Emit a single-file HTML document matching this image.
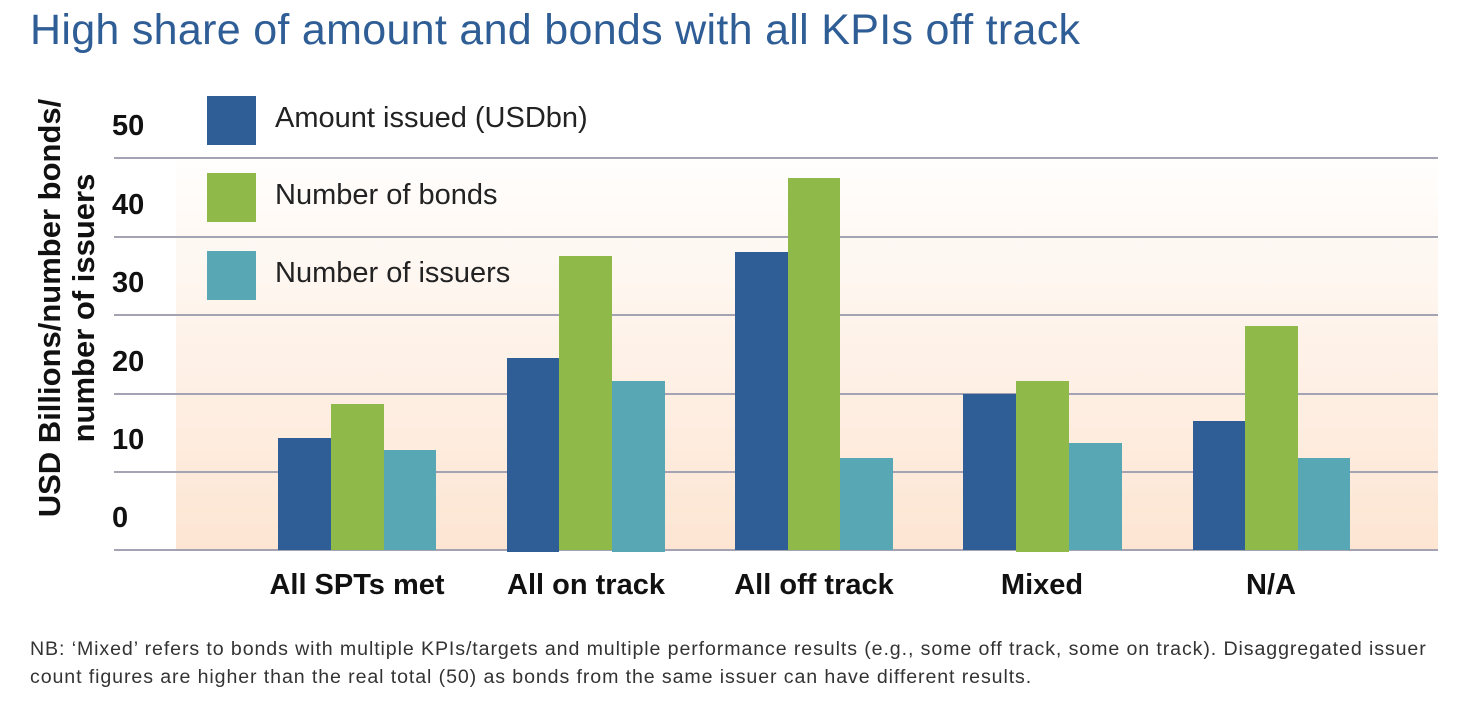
<!DOCTYPE html>
<html><head><style>
body{margin:0;width:1474px;height:702px;background:#fff;position:relative;overflow:hidden;font-family:"Liberation Sans",sans-serif}
.a{position:absolute}
.t{font-weight:bold;font-size:29px;color:#111}
.b{position:absolute}
.bl{background:#2f5d95}.gr{background:#8fba4a}.te{background:#57a7b4}
.lg{position:absolute;left:275px;font-size:29px;color:#222}
.gl{position:absolute;left:114px;width:1324px;height:2px;background:#a3a3b3}
.x{position:absolute;top:569px;font-weight:bold;font-size:29px;color:#111;width:260px;text-align:center}
</style></head><body>
<div class="a" style="left:30px;top:6px;font-size:43px;color:#2f5d95;white-space:nowrap;letter-spacing:0.3px">High share of amount and bonds with all KPIs off track</div>
<div class="a" style="left:176px;top:158px;width:1262px;height:392px;background:linear-gradient(#fffefd,#fde5d2)"></div>
<div class="gl" style="top:157px"></div><div class="gl" style="top:236px"></div><div class="gl" style="top:314px"></div><div class="gl" style="top:393px"></div><div class="gl" style="top:471px"></div><div class="gl" style="top:549px"></div>
<div class="a t" style="left:112px;top:110px">50</div>
<div class="a t" style="left:112px;top:189px">40</div>
<div class="a t" style="left:112px;top:267px">30</div>
<div class="a t" style="left:112px;top:346px">20</div>
<div class="a t" style="left:112px;top:424px">10</div>
<div class="a t" style="left:112px;top:502px">0</div>
<div class="a t" style="left:67px;top:308px;transform:translate(-50%,-50%) rotate(-90deg);white-space:nowrap;text-align:center;line-height:34px;font-size:31px">USD Billions/number bonds/<br>number of issuers</div>
<div class="b bl" style="left:207px;top:96px;width:49px;height:49px"></div>
<div class="b gr" style="left:207px;top:173px;width:49px;height:49px"></div>
<div class="b te" style="left:207px;top:251px;width:49px;height:49px"></div>
<div class="lg" style="top:102px">Amount issued (USDbn)</div>
<div class="lg" style="top:179px">Number of bonds</div>
<div class="lg" style="top:257px">Number of issuers</div>
<div class="b bl" style="left:278px;top:438px;width:53px;height:112px"></div>
<div class="b gr" style="left:331px;top:404px;width:53px;height:146px"></div>
<div class="b te" style="left:384px;top:450px;width:52px;height:100px"></div>
<div class="b bl" style="left:507px;top:358px;width:52px;height:194px"></div>
<div class="b gr" style="left:559px;top:256px;width:53px;height:294px"></div>
<div class="b te" style="left:612px;top:381px;width:53px;height:171px"></div>
<div class="b bl" style="left:735px;top:252px;width:53px;height:298px"></div>
<div class="b gr" style="left:788px;top:178px;width:52px;height:372px"></div>
<div class="b te" style="left:840px;top:458px;width:53px;height:92px"></div>
<div class="b bl" style="left:963px;top:394px;width:53px;height:156px"></div>
<div class="b gr" style="left:1016px;top:381px;width:53px;height:171px"></div>
<div class="b te" style="left:1069px;top:443px;width:53px;height:107px"></div>
<div class="b bl" style="left:1193px;top:421px;width:52px;height:129px"></div>
<div class="b gr" style="left:1245px;top:326px;width:53px;height:224px"></div>
<div class="b te" style="left:1298px;top:458px;width:52px;height:92px"></div>
<div class="x" style="left:227px">All SPTs met</div>
<div class="x" style="left:456px">All on track</div>
<div class="x" style="left:684px">All off track</div>
<div class="x" style="left:912px">Mixed</div>
<div class="x" style="left:1141px">N/A</div>
<div class="a" style="left:30px;top:635px;font-size:19.6px;color:#333;line-height:28px;white-space:nowrap;letter-spacing:0.9px">NB: ‘Mixed’ refers to bonds with multiple KPIs/targets and multiple performance results (e.g., some off track, some on track). Disaggregated issuer<br>count figures are higher than the real total (50) as bonds from the same issuer can have different results.</div>
</body></html>
